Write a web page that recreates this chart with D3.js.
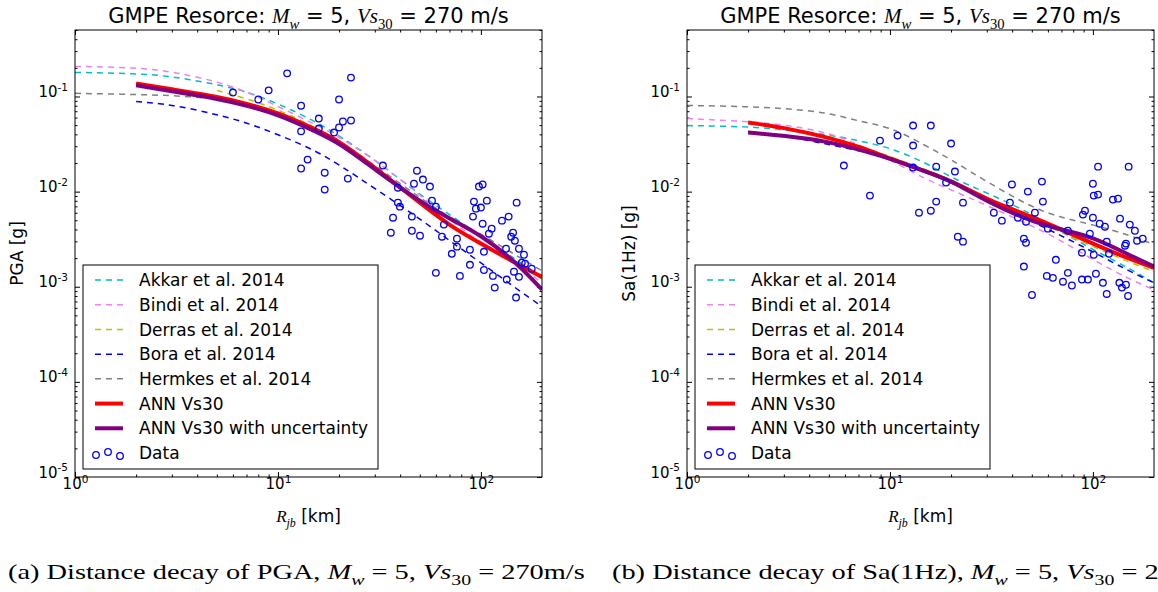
<!DOCTYPE html>
<html>
<head>
<meta charset="utf-8">
<script src="https://cdn.jsdelivr.net/npm/d3@7"></script>
<style>
  body { margin: 0; background: #fff; }
  svg { display: block; font-family: 'DejaVu Sans', sans-serif; }
</style>
</head>
<body>
<svg id="chart" width="1158" height="592"></svg>
<script>
var distFrom1 = [1, 2, 3, 5, 7, 10, 15, 20, 30, 50, 70, 100, 150, 200];
var distFrom2 = [2, 3, 5, 7, 10, 15, 20, 30, 50, 70, 100, 150, 200];
var distFrom5 = [5, 7, 10, 15, 20, 30, 50, 70, 100, 150, 200];

var legendNames = ["Akkar et al. 2014", "Bindi et al. 2014", "Derras et al. 2014",
    "Bora et al. 2014", "Hermkes et al. 2014", "ANN Vs30", "ANN Vs30 with uncertainty"];

// PGA [g]
var pgaAkkar   = [0.179, 0.175, 0.163, 0.134, 0.113, 0.0844, 0.0559, 0.0388, 0.0217, 0.00929, 0.00573, 0.00344, 0.00192, 0.00124];
var pgaBindi   = [0.207, 0.202, 0.183, 0.144, 0.113, 0.0785, 0.0520, 0.0379, 0.0217, 0.00929, 0.00507, 0.00290, 0.00171, 0.00110];
var pgaDerras  = [0.116, 0.0953, 0.0730, 0.0483, 0.0336, 0.0179, 0.00766, 0.00450, 0.00277, 0.00171, 0.00121];
var pgaBora    = [0.0886, 0.0824, 0.0647, 0.0532, 0.0398, 0.0277, 0.0192, 0.0108, 0.00520, 0.00305, 0.00179, 0.00095, 0.00062];
var pgaHermkes = [0.108, 0.105, 0.1025, 0.0953, 0.0844, 0.0695, 0.0472, 0.0344, 0.0188, 0.00865, 0.00532, 0.00361, 0.00212, 0.00147];
var pgaAnn     = [0.137, 0.119, 0.100, 0.0844, 0.0679, 0.0460, 0.0344, 0.0179, 0.00766, 0.00439, 0.00284, 0.00175, 0.00127];
var pgaAnnUnc  = [0.131, 0.113, 0.0953, 0.0804, 0.0647, 0.0439, 0.0328, 0.0171, 0.00785, 0.00520, 0.00352, 0.00179, 0.00093];

// Sa(1Hz) [g]
var saAkkar   = [0.0495, 0.0483, 0.0450, 0.0398, 0.0344, 0.0290, 0.0202, 0.0140, 0.00976, 0.00586, 0.00379, 0.00245, 0.00158, 0.00110];
var saBindi   = [0.0586, 0.0546, 0.0507, 0.0418, 0.0313, 0.0217, 0.0134, 0.0105, 0.00713, 0.00439, 0.00305, 0.00192, 0.00121, 0.00093];
var saDerras  = [0.0379, 0.0305, 0.0233, 0.0171, 0.0134, 0.00844, 0.00520, 0.00370, 0.00264, 0.00183, 0.00144];
var saBora    = [0.0428, 0.0388, 0.0313, 0.0270, 0.0228, 0.0163, 0.0124, 0.00844, 0.00483, 0.00344, 0.00233, 0.00147, 0.00110];
var saHermkes = [0.0804, 0.0785, 0.0748, 0.0679, 0.0546, 0.0483, 0.0305, 0.0217, 0.0127, 0.00679, 0.00532, 0.00450, 0.00352, 0.00277];
var saAnn     = [0.0532, 0.0472, 0.0370, 0.0298, 0.0223, 0.0163, 0.0131, 0.00824, 0.00546, 0.00398, 0.00284, 0.00197, 0.00158];
var saAnnUnc  = [0.0418, 0.0388, 0.0336, 0.0277, 0.0223, 0.0163, 0.0131, 0.00785, 0.00483, 0.00398, 0.00336, 0.00217, 0.00163];

// recorded data, PGA
var pgaObsDist = [6.0, 8.0, 9.0, 11.1, 13.0, 13.0, 13.0, 14.0, 15.9, 15.9, 17.0, 17.0, 18.9, 20.0, 20.0, 20.9, 22.1, 22.9, 22.9,
    32.9, 39.0, 39.0, 39.9, 36.9, 36.0, 45.7, 45.7, 46.8, 48.4, 51.8, 56.1, 57.4, 60.0, 65.7, 64.3, 50.1, 60.0, 71.9, 76.2, 76.2,
    78.8, 88.3, 88.3, 91.4, 92.4, 94.5, 97.8, 100, 102, 102, 103.5, 103.5, 107, 109.5, 113, 114.6, 117, 127, 133, 134, 137, 141,
    144, 147, 150, 154, 154, 145.5, 149, 163, 159, 165, 178];
var pgaObs = [0.110, 0.093, 0.116, 0.175, 0.080, 0.043, 0.0175, 0.0217, 0.0586, 0.046, 0.0158, 0.0105, 0.0418, 0.093, 0.0472,
    0.0546, 0.0137, 0.158, 0.0559, 0.0188, 0.0110, 0.00766, 0.00695, 0.00532, 0.0037, 0.00546, 0.00388, 0.0121, 0.0166, 0.0134,
    0.0113, 0.00804, 0.00695, 0.0045, 0.00336, 0.00344, 0.0014, 0.00222, 0.0032, 0.00264, 0.0013, 0.00245, 0.0017, 0.00546,
    0.00785, 0.00662, 0.0113, 0.0068, 0.0119, 0.0046, 0.00233, 0.0015, 0.00804, 0.00361, 0.00408, 0.0013, 0.00098, 0.00495,
    0.00251, 0.00119, 0.00546, 0.00336, 0.0037, 0.00305, 0.00766, 0.00251, 0.00127, 0.00144, 0.00077, 0.00217, 0.00179,
    0.00175, 0.00155];

// recorded data, Sa(1Hz)
var saObsDist = [5.93, 7.97, 8.93, 10.9, 13.0, 13.0, 13.0, 13.9, 15.9, 15.9, 16.9, 16.9, 18.9, 20.0, 20.9, 21.6, 22.9, 22.9,
    32.5, 35.6, 39.9, 39.0, 47.8, 42.7, 46.8, 51.8, 56.1, 56.7, 45.7, 46.8, 45.7, 50.1, 60.0, 59.3, 63.5, 65.7, 71.2, 75.3,
    78.8, 75.3, 88.3, 89.3, 91.4, 88.3, 94.5, 96.6, 100, 100, 101, 106, 106, 101, 103.5, 108, 112, 114.6, 117, 117, 120,
    125.5, 133, 136, 135, 139, 145.5, 144, 145.5, 149, 150, 152, 161, 165, 176];
var saObs = [0.0188, 0.00908, 0.0344, 0.0388, 0.0495, 0.0305, 0.0179, 0.0060, 0.0495, 0.0063, 0.0183, 0.00785, 0.01245,
    0.032, 0.01625, 0.00336, 0.00766, 0.00298, 0.0060, 0.00495, 0.0119, 0.00766, 0.0100, 0.00532, 0.00483, 0.0060, 0.01274,
    0.00785, 0.0032, 0.0029, 0.00163, 0.00082, 0.00408, 0.0013, 0.00124, 0.00192, 0.00113, 0.0014, 0.00103, 0.00388,
    0.00228, 0.00573, 0.0063, 0.00119, 0.00119, 0.00361, 0.00532, 0.0121, 0.00908, 0.0093, 0.0183, 0.00217, 0.00137,
    0.0046, 0.0011, 0.00428, 0.00084, 0.00298, 0.00222, 0.00824, 0.00844, 0.0052, 0.0011, 0.00098, 0.00284, 0.0027,
    0.00105, 0.0008, 0.0183, 0.0045, 0.00388, 0.00305, 0.0032];

// styles for the seven curves, legend order
var curveStyle = [
    { color: "#00bfbf", width: 1.5, dash: "6,5" },
    { color: "#ee82ee", width: 1.5, dash: "6,5" },
    { color: "#bfbf00", width: 1.5, dash: "6,5" },
    { color: "#0000ff", width: 1.5, dash: "6,5" },
    { color: "#808080", width: 1.5, dash: "6,5" },
    { color: "#ff0000", width: 4, dash: null },
    { color: "#800080", width: 4, dash: null }
];

var svg = d3.select("#chart");
var serif = "'Liberation Serif', 'DejaVu Serif', serif";

// appends tspans (plain / italic / sub / sup) to a text element
function rich(text, parts, size) {
    var shift = 0;
    parts.forEach(function (p) {
        var target = p.sub ? size * 0.3 : (p.sup ? -size * 0.42 : 0);
        var ts = text.append("tspan").text(p.t).attr("dy", target - shift);
        shift = target;
        if (p.sub || p.sup) ts.attr("font-size", size * 0.7);
        if (p.it) ts.attr("font-style", "italic");
        if (p.serif) ts.attr("font-family", serif);
    });
}

function drawPanel(off, yLabel, curves, obsDist, obs) {
    var margins = { left: 75 + off, right: 542 + off, top: 30, bottom: 477 };
    var x = d3.scaleLog().domain([1, 200]).range([margins.left, margins.right]);
    var y = d3.scaleLog().domain([1e-5, 0.5]).range([margins.bottom, margins.top]);
    var g = svg.append("g");

    var clipId = "clip" + off;
    g.append("clipPath").attr("id", clipId).append("rect")
        .attr("x", margins.left).attr("y", margins.top)
        .attr("width", margins.right - margins.left)
        .attr("height", margins.bottom - margins.top);

    // ticks
    var xMajor = [1, 10, 100];
    var xMinor = [];
    [1, 10, 100].forEach(function (d) {
        for (var k = 2; k <= 9; k++) if (d * k < 200) xMinor.push(d * k);
    });
    var yMajor = [1e-5, 1e-4, 1e-3, 1e-2, 1e-1];
    var yMinor = [];
    yMajor.forEach(function (d) {
        for (var k = 2; k <= 9; k++) if (d * k <= 0.5) yMinor.push(d * k);
    });

    function tickAxis(axis, values, size, transform) {
        var a = g.append("g").attr("transform", transform)
            .call(axis.tickValues(values).tickSizeInner(-size).tickSizeOuter(0).tickFormat(""));
        a.select(".domain").remove();
        a.selectAll("line").attr("stroke", "#000").attr("stroke-width", 1);
        return a;
    }
    var bx = tickAxis(d3.axisBottom(x), xMajor, 5, "translate(0," + margins.bottom + ")");
    tickAxis(d3.axisBottom(x), xMinor, 2.5, "translate(0," + margins.bottom + ")");
    tickAxis(d3.axisTop(x), xMajor, 5, "translate(0," + margins.top + ")");
    tickAxis(d3.axisTop(x), xMinor, 2.5, "translate(0," + margins.top + ")");
    var ly = tickAxis(d3.axisLeft(y), yMajor, 5, "translate(" + margins.left + ",0)");
    tickAxis(d3.axisLeft(y), yMinor, 2.5, "translate(" + margins.left + ",0)");
    tickAxis(d3.axisRight(y), yMajor, 5, "translate(" + margins.right + ",0)");
    tickAxis(d3.axisRight(y), yMinor, 2.5, "translate(" + margins.right + ",0)");

    // tick labels as 10^n
    bx.selectAll(".tick text").each(function (d) {
        var t = d3.select(this).attr("y", 12).attr("dy", "0.9em")
            .attr("font-size", 15).attr("fill", "#000").attr("font-family", "'DejaVu Sans', sans-serif");
        rich(t, [{ t: "10" }, { t: String(Math.round(Math.log10(d))), sup: true }], 15);
    });
    ly.selectAll(".tick text").each(function (d) {
        var t = d3.select(this).attr("x", -7).attr("dy", "0.36em")
            .attr("font-size", 15).attr("fill", "#000").attr("font-family", "'DejaVu Sans', sans-serif");
        rich(t, [{ t: "10" }, { t: String(Math.round(Math.log10(d))), sup: true }], 15);
    });

    // curves
    var line = d3.line()
        .x(function (d) { return x(d[0]); })
        .y(function (d) { return y(d[1]); })
        .curve(d3.curveBasis);
    var plot = g.append("g").attr("clip-path", "url(#" + clipId + ")");
    curves.forEach(function (c, i) {
        var pts = c.dist.map(function (r, j) { return [r, c.val[j]]; });
        plot.append("path")
            .attr("d", line(pts))
            .attr("fill", "none")
            .attr("stroke", curveStyle[i].color)
            .attr("stroke-width", curveStyle[i].width)
            .attr("stroke-dasharray", curveStyle[i].dash);
    });

    // recorded data
    plot.selectAll(".obs")
        .data(obs.map(function (v, i) { return [obsDist[i], v]; }))
        .enter().append("circle")
        .attr("class", "obs")
        .attr("cx", function (d) { return x(d[0]); })
        .attr("cy", function (d) { return y(d[1]); })
        .attr("r", 3.3)
        .attr("fill", "none")
        .attr("stroke", "#0000ff")
        .attr("stroke-width", 1.3);

    // frame
    g.append("rect")
        .attr("x", margins.left).attr("y", margins.top)
        .attr("width", margins.right - margins.left)
        .attr("height", margins.bottom - margins.top)
        .attr("fill", "none").attr("stroke", "#000").attr("stroke-width", 1);

    // legend
    var lg = g.append("g").attr("transform", "translate(" + (margins.left + 8) + ",265)");
    lg.append("rect").attr("width", 295).attr("height", 204)
        .attr("fill", "#fff").attr("stroke", "#000").attr("stroke-width", 1);
    var rowY = d3.scaleLinear().domain([0, 7]).range([15, 188]);
    legendNames.forEach(function (name, i) {
        lg.append("line")
            .attr("x1", 12).attr("x2", 40)
            .attr("y1", rowY(i)).attr("y2", rowY(i))
            .attr("stroke", curveStyle[i].color)
            .attr("stroke-width", curveStyle[i].width)
            .attr("stroke-dasharray", curveStyle[i].dash);
        lg.append("text").attr("x", 56).attr("y", rowY(i)).attr("dy", "0.36em")
            .attr("font-size", 17).text(name);
    });
    [[13, 2], [25, -1], [37, 3]].forEach(function (p) {
        lg.append("circle").attr("cx", p[0]).attr("cy", rowY(7) + p[1]).attr("r", 3.3)
            .attr("fill", "none").attr("stroke", "#0000ff").attr("stroke-width", 1.3);
    });
    lg.append("text").attr("x", 56).attr("y", rowY(7)).attr("dy", "0.36em")
        .attr("font-size", 17).text("Data");

    // title
    var cx = (margins.left + margins.right) / 2;
    var title = g.append("text").attr("x", cx).attr("y", 23)
        .attr("text-anchor", "middle").attr("font-size", 21);
    rich(title, [
        { t: "GMPE Resorce: " }, { t: "M", it: true, serif: true }, { t: "w", it: true, serif: true, sub: true },
        { t: " = 5, " }, { t: "Vs", it: true, serif: true }, { t: "30", serif: true, sub: true },
        { t: " = 270 m/s" }
    ], 21);

    // axis labels
    var xl = g.append("text").attr("x", cx).attr("y", 522)
        .attr("text-anchor", "middle").attr("font-size", 17);
    rich(xl, [{ t: "R", it: true, serif: true }, { t: "jb", it: true, serif: true, sub: true }, { t: " [km]" }], 17);
    g.append("text")
        .attr("transform", "translate(" + (off + 23) + "," + ((margins.top + margins.bottom) / 2) + ") rotate(-90)")
        .attr("text-anchor", "middle").attr("font-size", 17).text(yLabel);
}

drawPanel(0, "PGA [g]", [
    { dist: distFrom1, val: pgaAkkar }, { dist: distFrom1, val: pgaBindi }, { dist: distFrom5, val: pgaDerras },
    { dist: distFrom2, val: pgaBora }, { dist: distFrom1, val: pgaHermkes }, { dist: distFrom2, val: pgaAnn },
    { dist: distFrom2, val: pgaAnnUnc }
], pgaObsDist, pgaObs);

drawPanel(612, "Sa(1Hz) [g]", [
    { dist: distFrom1, val: saAkkar }, { dist: distFrom1, val: saBindi }, { dist: distFrom5, val: saDerras },
    { dist: distFrom2, val: saBora }, { dist: distFrom1, val: saHermkes }, { dist: distFrom2, val: saAnn },
    { dist: distFrom2, val: saAnnUnc }
], saObsDist, saObs);

// sub-figure captions (serif, stretched to the width seen in the figure)
function caption(parts) {
    var g = svg.append("g");
    var t = g.append("text").attr("font-family", serif).attr("font-size", 21);
    rich(t, parts, 21);
    return { g: g, w: t.node().getComputedTextLength() };
}
var capA = caption([
    { t: "(a) Distance decay of PGA, " }, { t: "M", it: true }, { t: "w", it: true, sub: true },
    { t: " = 5, " }, { t: "Vs", it: true }, { t: "30", sub: true }, { t: " = 270m/s" }
]);
var capB = caption([
    { t: "(b) Distance decay of Sa(1Hz), " }, { t: "M", it: true }, { t: "w", it: true, sub: true },
    { t: " = 5, " }, { t: "Vs", it: true }, { t: "30", sub: true }, { t: " = 270m/s" }
]);
var sx = 577 / capA.w;
capA.g.attr("transform", "translate(8,579) scale(" + sx + ",1)");
capB.g.attr("transform", "translate(612,579) scale(" + sx + ",1)");
</script>
</body>
</html>
